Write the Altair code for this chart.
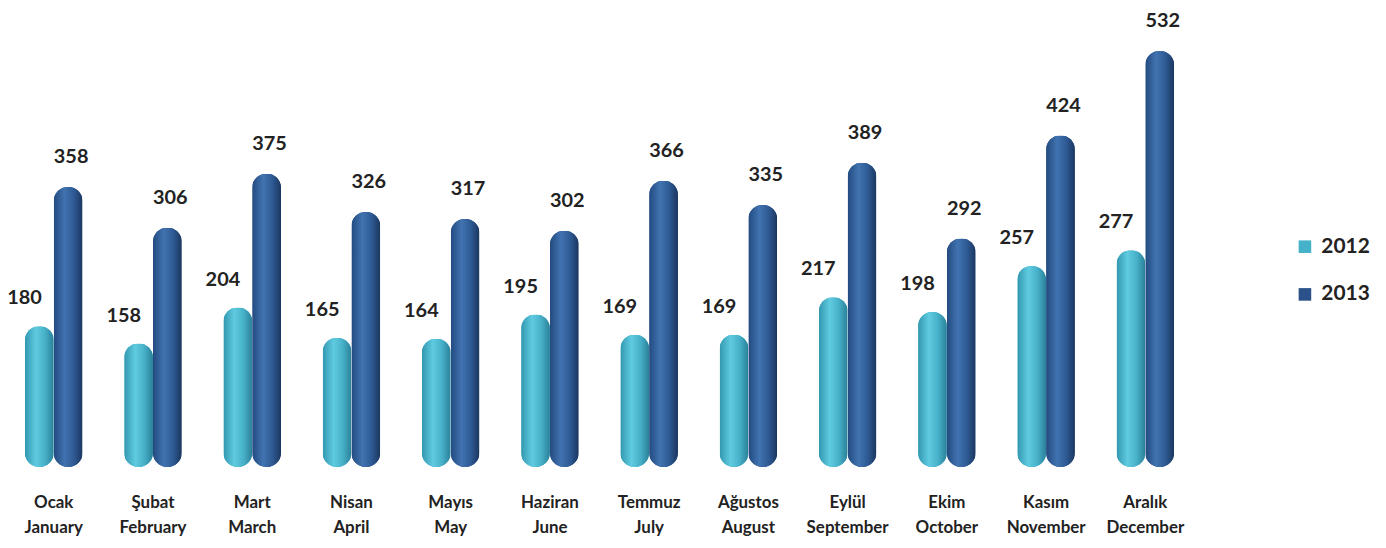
import altair as alt
import pandas as pd

months_tr = ["Ocak", "Şubat", "Mart", "Nisan", "Mayıs", "Haziran", "Temmuz",
             "Ağustos", "Eylül", "Ekim", "Kasım", "Aralık"]
months_en = ["January", "February", "March", "April", "May", "June", "July",
             "August", "September", "October", "November", "December"]
series = ["2012", "2013"]
values_2012 = [180, 158, 204, 165, 164, 195, 169, 169, 217, 198, 257, 277]
values_2013 = [358, 306, 375, 326, 317, 302, 366, 335, 389, 292, 424, 532]

keys = [f"{t}|{e}" for t, e in zip(months_tr, months_en)]
rows = []
for k, v in zip(keys, values_2012):
    rows.append({"month": k, "series": "2012", "value": v})
for k, v in zip(keys, values_2013):
    rows.append({"month": k, "series": "2013", "value": v})
df = pd.DataFrame(rows)

FONT = "Lato"

x_enc = alt.X("month:N", sort=keys,
              scale=alt.Scale(paddingInner=0.42, paddingOuter=0.171),
              axis=alt.Axis(title=None, labelExpr="split(datum.label, '|')",
                            domain=False, ticks=False, labelAngle=0,
                            labelFont=FONT, labelFontSize=17, labelFontWeight="bold",
                            labelColor="#222222", labelPadding=28, labelLineHeight=25))
xo_enc = alt.XOffset("series:N", sort=series,
                     scale=alt.Scale(paddingInner=0, paddingOuter=0))
y_enc = alt.Y("value:Q", scale=alt.Scale(domain=[0, 585]), axis=None)

base = alt.Chart(df).encode(x=x_enc, xOffset=xo_enc, y=y_enc)

legend_bars = base.mark_bar(cornerRadius=14).encode(
    color=alt.Color("series:N", sort=series,
                    scale=alt.Scale(domain=series, range=["#46b2ca", "#2a5189"]),
                    legend=alt.Legend(title=None, orient="none", legendX=1294, legendY=228,
                                      symbolType="square", symbolSize=160,
                                      symbolStrokeWidth=0, symbolOpacity=1,
                                      labelFont=FONT, labelFontSize=21,
                                      labelFontWeight="bold", labelColor="#222222",
                                      rowPadding=26, labelOffset=6))
)

grad12 = alt.Gradient(gradient="linear", x1=0, x2=1, y1=0, y2=0, stops=[
    alt.GradientStop(color="#3297b0", offset=0),
    alt.GradientStop(color="#5fcbe0", offset=0.38),
    alt.GradientStop(color="#46b0c8", offset=0.7),
    alt.GradientStop(color="#2a8098", offset=1)])
grad13 = alt.Gradient(gradient="linear", x1=0, x2=1, y1=0, y2=0, stops=[
    alt.GradientStop(color="#234a80", offset=0),
    alt.GradientStop(color="#4173b0", offset=0.38),
    alt.GradientStop(color="#2e5a94", offset=0.7),
    alt.GradientStop(color="#1b365e", offset=1)])

bars12 = base.transform_filter("datum.series == '2012'").mark_bar(
    cornerRadius=14, color=grad12)
bars13 = base.transform_filter("datum.series == '2013'").mark_bar(
    cornerRadius=14, color=grad13)

text_style = dict(font=FONT, fontSize=20, fontWeight="bold", color="#222222",
                  baseline="bottom")
text12 = base.transform_filter("datum.series == '2012'").mark_text(
    dx=-15, dy=-18, **text_style).encode(text="value:Q")
text13 = base.transform_filter("datum.series == '2013'").mark_text(
    dx=3, dy=-20, **text_style).encode(text="value:Q")

chart = alt.layer(legend_bars, bars12, bars13, text12, text13).properties(
    width=1190, height=460,
    autosize=alt.AutoSizeParams(type="none"),
    padding={"left": 0, "top": 0, "right": 188, "bottom": 80},
).configure_view(stroke=None)

chart.save("out.html", embed_options={"renderer": "svg", "actions": False})
